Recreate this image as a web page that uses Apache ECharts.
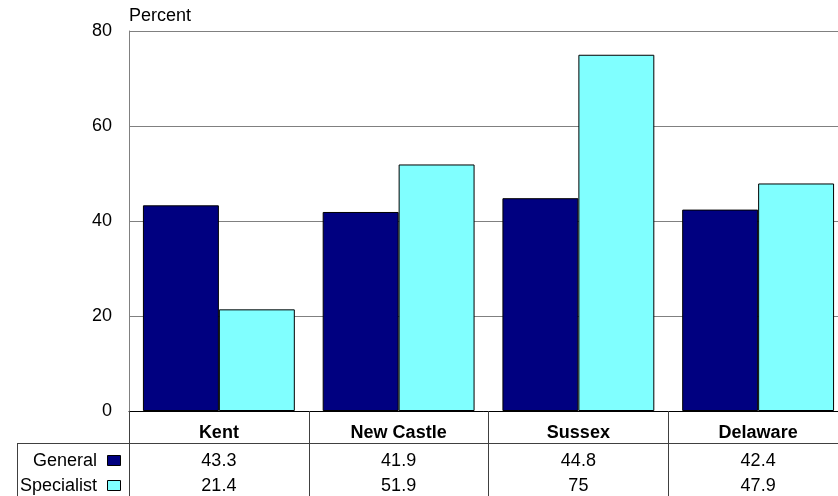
<!DOCTYPE html>
<html>
<head>
<meta charset="utf-8">
<script src="https://cdn.jsdelivr.net/npm/echarts@6/dist/echarts.min.js"></script>
<style>
html,body{margin:0;padding:0;background:#fff;}
#chart{width:838px;height:496px;}
</style>
</head>
<body>
<div id="chart"></div>
<script>
const categories = ['Kent', 'New Castle', 'Sussex', 'Delaware'];
const seriesNames = ['General', 'Specialist'];
const generalValues = [43.3, 41.9, 44.8, 42.4];
const specialistValues = [21.4, 51.9, 75, 47.9];
const yTicks = [0, 20, 40, 60, 80];
const yAxisName = 'Percent';

const colors = ['#000080', '#80FFFF'];
const FONT = 'Liberation Sans, Arial, sans-serif';

const chart = echarts.init(document.getElementById('chart'));

const valuesBySeries = [generalValues, specialistValues];

const graphics = [
  {type: 'line', shape: {x1: 17, y1: 443.5, x2: 848, y2: 443.5}, style: {stroke: '#404040', lineWidth: 1}},
  {type: 'line', shape: {x1: 17.5, y1: 443, x2: 17.5, y2: 496}, style: {stroke: '#404040', lineWidth: 1}}
];
const rowCenters = [461, 486];
seriesNames.forEach((n, i) => {
  graphics.push({
    type: 'text', style: {text: n, x: 97, y: rowCenters[i], textAlign: 'right', textVerticalAlign: 'middle',
      font: '18px ' + FONT, fill: '#000'}
  });
  graphics.push({
    type: 'rect', shape: {x: 107.5, y: rowCenters[i] - 5.5, width: 13, height: 10},
    style: {fill: colors[i], stroke: '#000', lineWidth: 1}
  });
});

chart.setOption({
  animation: false,
  backgroundColor: '#fff',
  textStyle: {fontFamily: FONT},
  grid: {left: 129, top: 31, width: 719, height: 380, containLabel: false, outerBoundsMode: 'none'},
  xAxis: {
    type: 'category',
    data: categories,
    axisLine: {show: true, lineStyle: {color: '#000', width: 1}},
    axisTick: {show: true, length: 85, alignWithLabel: false, lineStyle: {color: '#404040', width: 1}},
    axisLabel: {
      margin: 7,
      interval: 0,
      formatter: function (value, idx) {
        return '{c|' + value + '}\n{v|' + generalValues[idx] + '}\n{w|' + specialistValues[idx] + '}';
      },
      rich: {
        c: {fontSize: 18, fontWeight: 'bold', color: '#000', lineHeight: 30, fontFamily: FONT},
        v: {fontSize: 18, color: '#000', lineHeight: 26, fontFamily: FONT},
        w: {fontSize: 18, color: '#000', lineHeight: 24, fontFamily: FONT}
      }
    },
    splitLine: {show: false}
  },
  yAxis: {
    type: 'value',
    min: yTicks[0],
    max: yTicks[yTicks.length - 1],
    interval: yTicks[1] - yTicks[0],
    name: yAxisName,
    nameLocation: 'end',
    nameGap: 6,
    nameTextStyle: {fontSize: 18, color: '#000', align: 'left', fontFamily: FONT},
    axisLine: {show: true, lineStyle: {color: '#808080', width: 1}},
    axisTick: {show: false},
    axisLabel: {fontSize: 18, color: '#000', margin: 17, fontFamily: FONT},
    splitLine: {show: true, lineStyle: {color: '#808080', width: 1}}
  },
  series: seriesNames.map((n, i) => ({
    name: n,
    type: 'bar',
    data: valuesBySeries[i],
    barGap: '0%',
    barCategoryGap: '15.5%',
    itemStyle: {color: colors[i], borderColor: '#000', borderWidth: 1}
  })),
  graphic: graphics
});
</script>
</body>
</html>
